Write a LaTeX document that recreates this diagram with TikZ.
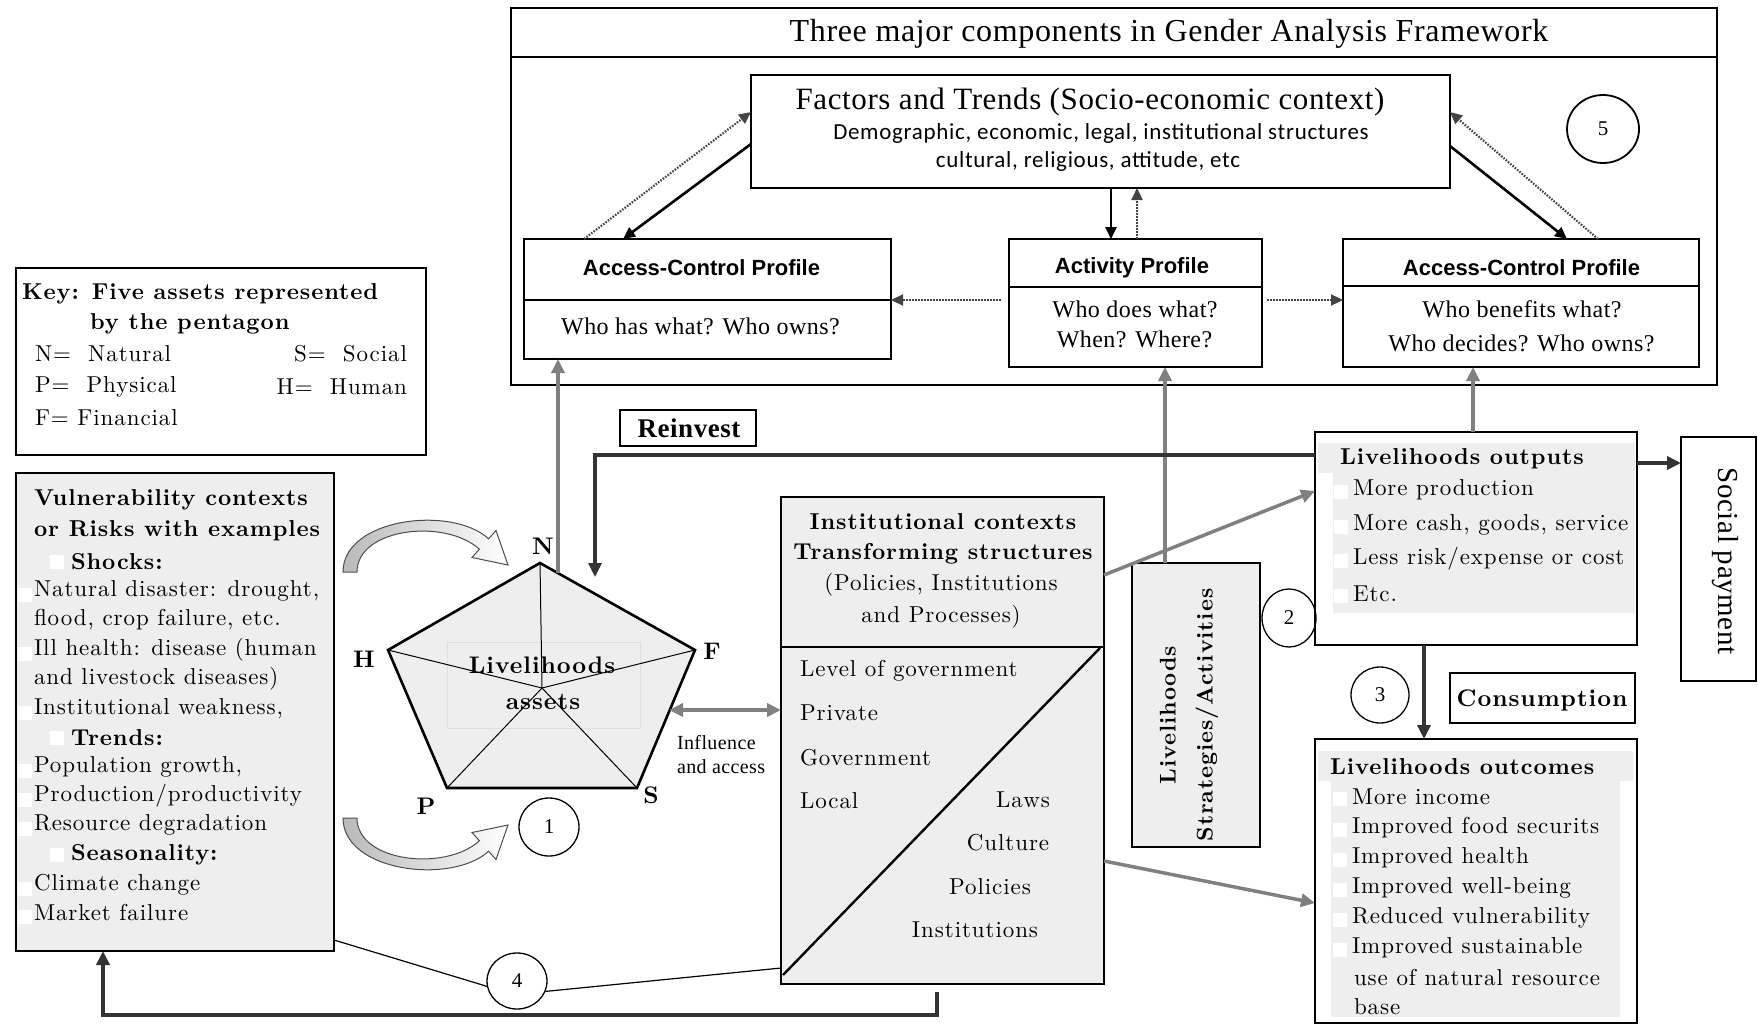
\documentclass[tikz,border=0pt]{standalone}
\usepackage{fontspec}
\usetikzlibrary{arrows.meta,shapes.geometric,calc}
\newfontfamily\tms[LetterSpace=2]{Liberation Serif}
\newfontfamily\sansc[LetterSpace=3]{Carlito}
\newfontfamily\arl{Liberation Sans}
\newfontfamily\bk{lmroman10}[Extension=.otf, UprightFont=*-regular, BoldFont=*-bold, LetterSpace=4]
\newcommand\fs[2]{\fontsize{#1}{#2}\selectfont}
\definecolor{boxgray}{HTML}{EEEEEE}
\definecolor{arrowgray}{HTML}{808080}
\definecolor{darkline}{HTML}{333333}
\definecolor{dotgray}{HTML}{444444}

\begin{document}
\begin{tikzpicture}[x=1pt,y=-1pt,
  box/.style={draw=black, line width=2.4pt, inner sep=0pt, outer sep=0pt},
  thinbox/.style={draw=black, line width=1.3pt, inner sep=0pt, outer sep=0pt},
  gfill/.style={fill=boxgray},
  tx/.style={inner sep=0pt, outer sep=0pt},
  bkr/.style={tx, anchor=west, font=\bk\fs{23}{26}},
  bkb/.style={tx, anchor=west, font=\bk\bfseries\fs{23}{26}},
  num/.style={draw=black, ellipse, line width=1.3pt, inner sep=0pt, font=\tms\fs{21}{24}},
  sq/.style={fill=white, draw=none, minimum size=14pt, inner sep=0pt},
  garrow/.style={draw=arrowgray, line width=3.5pt, -{Triangle[length=14pt,width=13pt]}},
  darrow/.style={draw=darkline, line width=3.8pt, -{Triangle[length=14pt,width=13pt]}},
  solidarrow/.style={draw=black, line width=2.6pt, -{Triangle[length=12pt,width=11pt]}},
  dotarrow/.style={draw=dotgray, line width=2.2pt, dash pattern=on 1.6pt off 1.4pt, -{Triangle[length=12pt,width=11pt]}},
]
\useasboundingbox (0,0) rectangle (1758,1025);

% ---------- Gender analysis framework (top frame) ----------
\node[box, minimum width=1206pt, minimum height=377pt] (topframe) at (1114,196.5) {};
\draw[line width=2.4pt] (topframe.west |- 0,57) -- (topframe.east |- 0,57);
\node[tx, font=\tms\fs{32}{34}] (title) at (1169,34) {Three major components in Gender Analysis Framework};

\node[box, minimum width=699pt, minimum height=113pt] (factors) at (1100.5,131.5) {};
\node[tx, font=\tms\fs{31}{34}] (factT) at (1090,102) {Factors and Trends (Socio-economic context)};
\node[tx, font=\sansc\fs{23}{26}] (fact1) at (1101,133) {Demographic, economic, legal, institutional structures};
\node[tx, font=\sansc\fs{23}{26}] (fact2) at (1088,161) {cultural, religious, attitude, etc};

\node[num, line width=1.8pt, minimum width=72pt, minimum height=68pt] (c5) at (1603,129) {5};

\node[box, minimum width=367pt, minimum height=120pt] (acpL) at (707.5,299) {};
\draw[line width=2.4pt] (acpL.west |- 0,300) -- (acpL.east |- 0,300);
\node[tx, font=\arl\bfseries\fs{22}{24}] (acpLt) at (701.5,268) {Access-Control Profile};
\node[tx, font=\tms\fs{24}{26}] (acpLb) at (700.5,326) {Who has what? Who owns?};

\node[box, minimum width=253pt, minimum height=128pt] (act) at (1135.5,303) {};
\draw[line width=2.4pt] (act.west |- 0,287) -- (act.east |- 0,287);
\node[tx, font=\arl\bfseries\fs{22}{24}] (actt) at (1132,268) {Activity Profile};
\node[tx, font=\tms\fs{24}{26}] (actb1) at (1135,309) {Who does what?};
\node[tx, font=\tms\fs{24}{26}] (actb2) at (1134.5,339) {When? Where?};

\node[box, minimum width=356pt, minimum height=128pt] (acpR) at (1521,303) {};
\draw[line width=2.4pt] (acpR.west |- 0,286) -- (acpR.east |- 0,286);
\node[tx, font=\arl\bfseries\fs{22}{24}] (acpRt) at (1521.5,268) {Access-Control Profile};
\node[tx, font=\tms\fs{24}{26}] (acpRb1) at (1522,309) {Who benefits what?};
\node[tx, font=\tms\fs{24}{26}] (acpRb2) at (1521.5,343) {Who decides? Who owns?};

% links between the three profiles and the context
\draw[solidarrow] (factors.west |- 0,144) -- (acpL.north -| 623,0);
\draw[dotarrow] (acpL.north -| 584,0) -- (factors.west |- 0,112);
\draw[solidarrow] (factors.south -| 1111,0) -- (act.north -| 1111,0);
\draw[dotarrow] (act.north -| 1137,0) -- (factors.south -| 1137,0);
\draw[solidarrow] (factors.east |- 0,146) -- (acpR.north -| 1567,0);
\draw[dotarrow] (acpR.north -| 1598,0) -- (factors.east |- 0,112);
\draw[dotarrow] ($(act.west |- 0,300)+(-8,0)$) -- (acpL.east |- 0,300);
\draw[dotarrow] ($(act.east |- 0,300)+(5,0)$) -- (acpR.west |- 0,300);

% ---------- Key ----------
\node[thinbox, minimum width=410pt, minimum height=187pt] (key) at (221,361.5) {};
\node[bkb] (k1) at (22,294) {Key: Five assets represented};
\node[bkb] (k2) at (90,324) {by the pentagon};
\node[bkr] (k3) at (35,354) {N=\ \ Natural};
\node[bkr, anchor=east] (k4) at (407,354) {S=\ \ Social};
\node[bkr] (k5) at (35,387) {P=\ \ Physical};
\node[bkr, anchor=east] (k6) at (407,387) {H=\ \ Human};
\node[bkr] (k7) at (35,418) {F= Financial};

% ---------- Vulnerability contexts ----------
\node[box, gfill, minimum width=318pt, minimum height=478pt] (vuln) at (175,712) {};
\foreach \yy [count=\k] in {595,654,713,771,800,829,889,917}
  \node[sq] (vsq\k) at (25,\yy) {};
\foreach \yy [count=\k] in {562,738,855}
  \node[sq] (vsub\k) at (57,\yy) {};
\node[bkb] (v1) at (34,500) {Vulnerability contexts};
\node[bkb] (v2) at (34,531) {or Risks with examples};
\node[bkb] (v3) at (71,562) {Shocks:};
\node[bkr] (v4) at (34,591) {Natural disaster: drought,};
\node[bkr] (v5) at (34,620) {flood, crop failure, etc.};
\node[bkr] (v6) at (34,650) {Ill health: disease (human};
\node[bkr] (v7) at (34,679) {and livestock diseases)};
\node[bkr] (v8) at (34,709) {Institutional weakness,};
\node[bkb] (v9) at (71,738) {Trends:};
\node[bkr] (v10) at (34,767) {Population growth,};
\node[bkr] (v11) at (34,796) {Production/productivity};
\node[bkr] (v12) at (34,825) {Resource degradation};
\node[bkb] (v13) at (71,855) {Seasonality:};
\node[bkr] (v14) at (34,885) {Climate change};
\node[bkr] (v15) at (34,913) {Market failure};

% ---------- curved block arrows ----------
\shadedraw[left color=gray!55, right color=white, draw=gray!60!black, line width=1pt]
  (343,572) .. controls (343,518) and (452,505) .. (488.6,538.8) -- (496,530.5)
  -- (508,565) -- (472,557.5) -- (479.4,549.2)
  .. controls (445,518) and (357,528) .. (357,572) -- cycle;
\shadedraw[left color=gray!55, right color=white, draw=gray!60!black, line width=1pt]
  (343,818) .. controls (343,872) and (452,885) .. (488.6,851.2) -- (496,859.5)
  -- (508,825) -- (472,832.5) -- (479.4,840.8)
  .. controls (445,872) and (357,862) .. (357,818) -- cycle;

% ---------- livelihoods asset pentagon ----------
\coordinate (pN) at (540,563);
\coordinate (pF) at (695,650);
\coordinate (pS) at (637,788);
\coordinate (pP) at (447,788);
\coordinate (pH) at (388,650);
\coordinate (pC) at (542,688);
\fill[boxgray] (pN) -- (pF) -- (pS) -- (pP) -- (pH) -- cycle;
\draw[gray!25, line width=0.8pt] (447,642) rectangle (640,728);
\node[tx, font=\bk\bfseries\fs{24}{26}] (asset1) at (542,665) {Livelihoods};
\node[tx, font=\bk\bfseries\fs{24}{26}] (asset2) at (543,702) {assets};
\foreach \v in {pN,pF,pS,pP,pH} \draw[line width=1pt] (pC) -- (\v);
\draw[line width=2.6pt, line join=miter] (pN) -- (pF) -- (pS) -- (pP) -- (pH) -- cycle;
\node[tx, font=\bk\bfseries\fs{24}{26}] (lN) at (543,546) {N};
\node[tx, font=\bk\bfseries\fs{24}{26}] (lH) at (364,659) {H};
\node[tx, font=\bk\bfseries\fs{24}{26}] (lF) at (712,651) {F};
\node[tx, font=\bk\bfseries\fs{24}{26}] (lP) at (426,806) {P};
\node[tx, font=\bk\bfseries\fs{24}{26}] (lS) at (651,795) {S};
\node[num, minimum width=60pt, minimum height=58pt] (c1) at (549,827) {1};

\node[tx, anchor=west, font=\tms\fs{20}{22}] (infl1) at (677,743) {Influence};
\node[tx, anchor=west, font=\tms\fs{20}{22}] (infl2) at (677,767) {and access};

% ---------- institutional contexts ----------
\node[box, gfill, minimum width=323pt, minimum height=487pt] (inst) at (942.5,740.5) {};
\draw[line width=2.4pt] (inst.west |- 0,647) -- (inst.east |- 0,647);
\coordinate (dgA) at (783,975);
\coordinate (dgB) at (1100,648);
\draw[line width=2.4pt] (dgA) -- (dgB);
\node[tx, font=\bk\bfseries\fs{23}{26}] (i1) at (943,522) {Institutional contexts};
\node[tx, font=\bk\bfseries\fs{23}{26}] (i2) at (943,554) {Transforming structures};
\node[tx, font=\bk\fs{23}{26}] (i3) at (941,585) {(Policies, Institutions};
\node[tx, font=\bk\fs{23}{26}] (i4) at (941,617) {and Processes)};
\node[bkr] (il1) at (800,671) {Level of government};
\node[bkr] (il2) at (800,713) {Private};
\node[bkr] (il3) at (800,758) {Government};
\node[bkr] (il4) at (800,801) {Local};
\node[tx, font=\bk\fs{23}{26}] (ir1) at (1023,800) {Laws};
\node[tx, font=\bk\fs{23}{26}] (ir2) at (1008,843) {Culture};
\node[tx, font=\bk\fs{23}{26}] (ir3) at (990,887) {Policies};
\node[tx, font=\bk\fs{23}{26}] (ir4) at (975,930) {Institutions};

% ---------- strategies ----------
\node[box, gfill, minimum width=128pt, minimum height=284pt] (strat) at (1196,705) {};
\node[tx, rotate=90, align=center, font=\bk\bfseries\fs{22.7}{37}] (stratT) at (1189,715) {Livelihoods\\Strategies/Activities};
\node[num, minimum width=54pt, minimum height=58pt] (c2) at (1289,618) {2};

% ---------- outputs ----------
\node[box, minimum width=322pt, minimum height=213pt] (outputs) at (1476,538.5) {};
\fill[boxgray] (1318,443) rectangle (1635,473);
\fill[boxgray] (1333,473) rectangle (1635,613);
\foreach \yy [count=\k] in {492,527,561,596}
  \node[sq] (osq\k) at (1340.5,\yy) {};
\node[bkb] (o0) at (1340,459) {Livelihoods outputs};
\node[bkr] (o1) at (1353,490) {More production};
\node[bkr] (o2) at (1353,525) {More cash, goods, service};
\node[bkr] (o3) at (1353,559) {Less risk/expense or cost};
\node[bkr] (o4) at (1353,594) {Etc.};

\node[box, minimum width=75pt, minimum height=244pt] (social) at (1718.5,559) {};
\node[tx, rotate=-90, font=\tms\fs{29}{30}] (socialT) at (1725,561) {Social payment};

\node[num, minimum width=58pt, minimum height=56pt] (c3) at (1380,695) {3};
\node[box, minimum width=185pt, minimum height=50pt] (cons) at (1542.5,698) {};
\node[tx, font=\bk\bfseries\fs{24}{26}] (consT) at (1542,700) {Consumption};

% ---------- outcomes ----------
\node[box, minimum width=322pt, minimum height=284pt] (outcomes) at (1476,881) {};
\fill[boxgray] (1318,751) rectangle (1633,781);
\fill[boxgray] (1331,781) rectangle (1620,1017);
\foreach \yy [count=\k] in {799,830,860,890,920,950}
  \node[sq] (csq\k) at (1340,\yy) {};
\node[bkb] (u0) at (1330,767) {Livelihoods outcomes};
\node[bkr] (u1) at (1352,797) {More income};
\node[bkr] (u2) at (1352,828) {Improved food securits};
\node[bkr] (u3) at (1352,858) {Improved health};
\node[bkr] (u4) at (1352,888) {Improved well-being};
\node[bkr] (u5) at (1352,918) {Reduced vulnerability};
\node[bkr] (u6) at (1352,948) {Improved sustainable};
\node[bkr] (u7) at (1354,978) {use of natural resource};
\node[bkr] (u8) at (1354,1007) {base};

% ---------- reinvest ----------
\node[thinbox, minimum width=136pt, minimum height=36pt] (reinv) at (688,428) {};
\node[tx, font=\tms\bfseries\fs{27}{28}] (reinvT) at (689,428) {Reinvest};

% ---------- connectors ----------
\coordinate (pNF) at (558,573);
\draw[garrow] (pNF) -- (pNF |- acpL.south);
\coordinate (stT) at (1165,563);
\draw[garrow] (stT) -- (stT |- act.south);
\coordinate (ouT) at (1473,432);
\draw[garrow] (ouT) -- (ouT |- acpR.south);
\draw[garrow] (inst.east |- 0,575) -- (outputs.west |- 0,491);
\draw[garrow] (inst.east |- 0,861) -- (outcomes.west |- 0,903);
\coordinate (pR) at (669,710);
\draw[garrow, {Triangle[length=14pt,width=13pt]}-{Triangle[length=14pt,width=13pt]}] (pR) -- (pR -| inst.west);

\draw[darrow] (outputs.east |- 0,463) -- (social.west |- 0,463);
\draw[darrow] (outputs.south -| 1424,0) -- (outcomes.north -| 1424,0);
\coordinate (rvEnd) at (595,577);
\draw[darrow, line width=3.2pt] (outputs.west |- 0,455) -- (rvEnd |- 0,455) -- (rvEnd);
\coordinate (fbS) at (937,992);
\draw[darrow] (fbS) -- (937,1015) -- (103,1015) -- (vuln.south -| 103,0);

\node[num, minimum width=60pt, minimum height=56pt] (c4) at (517,981) {4};
\draw[line width=1.2pt] (vuln.east |- 0,940) -- (c4.190);
\draw[line width=1.2pt] (c4.340) -- (inst.west |- 0,968);
\end{tikzpicture}
\end{document}
